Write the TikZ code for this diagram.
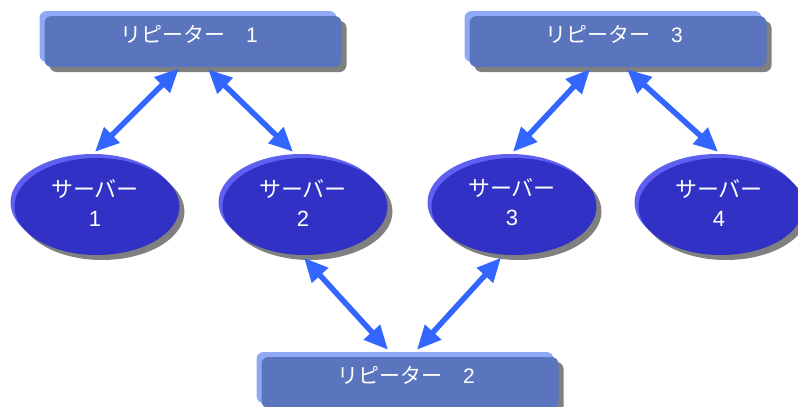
\documentclass[tikz,border=0pt]{standalone}
\usepackage{fontspec}
\setmainfont{Liberation Sans}
\newfontfamily\jp{Noto Sans CJK JP}
\usetikzlibrary{shadows,arrows.meta,calc,shapes.geometric}
\definecolor{repbody}{HTML}{5A75BE}
\definecolor{rephi}{HTML}{90A9F6}
\definecolor{srvbody}{HTML}{3131C6}
\definecolor{srvhi}{HTML}{5F5FF2}
\definecolor{shadowgray}{HTML}{808080}
\definecolor{arrowblue}{HTML}{3366FF}
\begin{document}
\begin{tikzpicture}[x=1pt,y=-1pt,
  repbox/.style={rectangle, rounded corners=7pt, minimum width=297pt, minimum height=51pt,
    inner sep=0pt, fill=repbody,
    general shadow={fill=shadowgray, shadow xshift=5pt, shadow yshift=-5pt},
    general shadow={fill=rephi, shadow xshift=-5pt, shadow yshift=5pt}},
  reptext/.style={text=white, inner sep=0pt, font=\fontsize{21}{25}\selectfont},
  srvbox/.style={ellipse, minimum width=165pt, minimum height=97pt, inner sep=0pt, fill=srvbody,
    general shadow={fill=shadowgray, shadow xshift=5pt, shadow yshift=-5pt},
    general shadow={fill=srvhi, shadow xshift=-4pt, shadow yshift=4pt}},
  srvtext/.style={text=white, inner sep=0pt, align=center, font=\fontsize{22}{29}\selectfont},
  link/.style={draw=arrowblue, line width=5.5pt,
    {Triangle[length=24pt,width=21pt]}-{Triangle[length=24pt,width=21pt]}}
]
\useasboundingbox (0,0) rectangle (798,407);
\clip (0,0) rectangle (798,407);

% repeaters
\node[repbox] (r1) at (193,41.5) {};
\node[repbox] (r3) at (618,41.5) {};
\node[repbox] (r2) at (410,382.5) {};
\node[reptext] (r1t) at ($(r1)+(-4,-7)$) {{\jp リピーター　}1};
\node[reptext] (r3t) at ($(r3)+(-4,-7)$) {{\jp リピーター　}3};
\node[reptext] (r2t) at ($(r2)+(-4,-7)$) {{\jp リピーター　}2};

% servers
\node[srvbox] (s1) at (97,206.5) {};
\node[srvbox] (s2) at (305,206.5) {};
\node[srvbox] (s3) at (514,206.5) {};
\node[srvbox] (s4) at (721,206.5) {};
\node[srvtext] (s1t) at ($(s1)+(-2,-4)$) {{\jp サーバー}\\1};
\node[srvtext] (s2t) at ($(s2)+(-2,-4)$) {{\jp サーバー}\\2};
\node[srvtext] (s3t) at ($(s3)+(-2,-4)$) {{\jp サーバー}\\3};
\node[srvtext] (s4t) at ($(s4)+(-2,-4)$) {{\jp サーバー}\\4};

% links
\draw[link] ($(r1.south)+(-14,1)$) -- ($(s1.north)+(-2,-6)$);
\draw[link] ($(r1.south)+(15,2)$) -- ($(s2.north)+(-12,-6)$);
\draw[link] ($(r3.south)+(-28,2)$) -- ($(s3.north)+(-1,-6)$);
\draw[link] ($(r3.south)+(9,2)$) -- ($(s4.north)+(-3,-6)$);
\draw[link] ($(s2.south)+(-1,2.5)$) -- ($(r2.north)+(-22,-7)$);
\draw[link] ($(s3.south)+(-13,2.5)$) -- ($(r2.north)+(7,-7)$);
\end{tikzpicture}
\end{document}
